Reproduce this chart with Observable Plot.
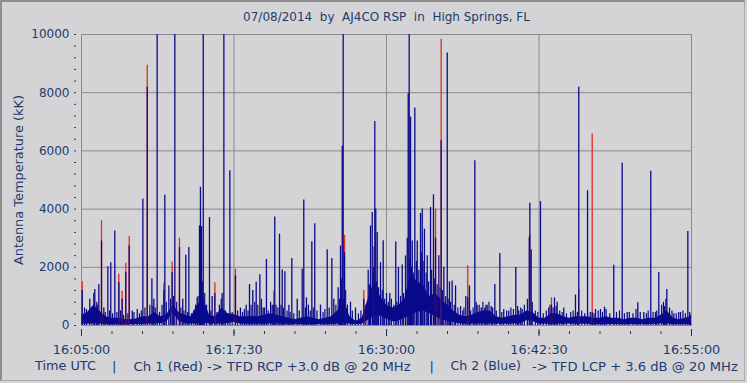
<!DOCTYPE html>
<html><head><meta charset="utf-8">
<script src="https://cdn.jsdelivr.net/npm/d3@7"></script>
<script src="https://cdn.jsdelivr.net/npm/@observablehq/plot@0.6"></script>
<style>
html,body{margin:0;padding:0;background:#d4d4d6;}
#wrap{position:relative;width:747px;height:383px;overflow:hidden;background:#d4d4d6;font-family:"DejaVu Sans",sans-serif;color:#1d3a6e;}
.t{position:absolute;white-space:pre;line-height:1;}
#frame{position:absolute;left:0;top:0;width:745px;height:381px;border-top:2px solid #8e8e8e;border-left:2px solid #8e8e8e;border-right:1px solid #ababab;border-bottom:1px solid #ababab;box-sizing:border-box;}
#chart{position:absolute;left:0;top:0;}
</style></head><body>
<div id="wrap">
<div id="frame"></div>
<div id="chart"></div>
<div class="t fit" data-w="287" data-cx="386.5" data-top="11" style="font-size:12px;">07/08/2014  by  AJ4CO RSP  in  High Springs, FL</div>
<div class="t fit rot" data-w="170" style="left:19px;top:180px;font-size:12.7px;transform:translate(-50%,-50%) rotate(-90deg);">Antenna Temperature (kK)</div>
<div class="t fit" data-w="61" data-left="35" style="top:360px;font-size:13px;">Time UTC</div>
<div class="t" style="left:112px;top:360px;font-size:13px;">|</div>
<div class="t fit" data-w="277.5" data-left="133.5" style="top:360px;font-size:13px;">Ch 1 (Red) -&gt; TFD RCP +3.0 dB @ 20 MHz</div>
<div class="t" style="left:429.5px;top:360px;font-size:13px;">|</div>
<div class="t fit" data-w="70.5" data-left="450.5" style="top:360px;font-size:13px;">Ch 2 (Blue)</div>
<div class="t fit" data-w="206" data-left="532" style="top:360px;font-size:13px;">-&gt; TFD LCP + 3.6 dB @ 20 MHz</div>
</div>
<script>
// ---- data (minutes after 16:05:00 UTC, antenna temperature in kK) ----
const xTickLabels = ["16:05:00","16:17:30","16:30:00","16:42:30","16:55:00"];
const xTickMinutes = [0, 12.5, 25, 37.5, 50];
const xMinorMinutes = [0,2.5,5,7.5,10,12.5,15,17.5,20,22.5,25,27.5,30,32.5,35,37.5,40,42.5,45,47.5,50];
const yTicks = [0,2000,4000,6000,8000,10000];
const yMinorTicks = [0,400,800,1200,1600,2000,2400,2800,3200,3600,4000,4400,4800,5200,5600,6000,6400,6800,7200,7600,8000,8400,8800,9200,9600,10000];

// spikes: time, Ch 2 (blue) peak, Ch 1 (red) peak where it shows above blue
const spikeMin = [0.06,0.41,0.68,1.01,1.09,1.42,1.64,1.83,2.16,2.40,2.73,3.06,3.33,3.63,3.91,4.16,4.57,5.03,5.39,5.77,5.93,6.20,6.75,6.83,7.16,7.43,7.65,8.03,8.30,8.55,8.80,9.48,9.67,9.75,9.84,9.98,10.49,10.71,10.93,11.53,11.67,12.16,12.62,13.03,13.50,13.77,14.04,14.32,14.62,14.89,15.16,15.63,15.76,15.84,16.23,16.45,16.67,17.00,17.24,17.68,18.09,18.22,18.44,18.88,19.12,19.59,20.14,20.52,20.68,21.04,21.23,21.37,21.45,21.56,22.05,22.46,23.14,23.50,23.69,23.83,23.96,24.04,24.12,24.24,24.51,24.73,25.00,25.27,25.76,25.98,26.29,26.56,26.70,26.78,26.86,26.97,27.11,27.32,27.52,27.79,27.93,28.11,28.34,28.61,28.85,29.02,29.29,29.48,29.70,29.98,30.16,30.38,30.66,31.07,31.50,31.66,31.80,32.24,32.43,32.76,33.06,33.25,33.58,33.88,34.29,34.61,35.02,35.60,35.84,36.12,36.70,36.75,36.86,37.62,38.30,38.52,38.77,38.99,39.53,40.49,40.76,41.48,41.86,42.13,42.54,42.87,43.63,44.32,44.73,45.60,46.09,46.66,47.05,47.32,47.79,47.98,48.55,49.10,49.70,49.92];
const spikeBlue = [1200,550,900,1100,1240,1410,2900,600,2020,2160,3250,1470,900,1820,2730,500,550,4340,8190,1610,900,10000,1200,4480,1360,1820,10000,2680,900,2410,2680,950,3420,4750,3400,10000,3710,1000,1100,1100,10000,5320,1700,600,700,1410,1200,1490,1740,600,2270,700,700,3730,3140,1910,1850,700,2300,900,1930,4310,950,2880,3500,700,2600,2300,900,1300,2730,6160,10000,2500,800,600,900,1900,3420,3880,2000,7010,4000,3200,2160,2910,1100,1100,2870,2000,2080,2390,3000,7960,10000,7160,2900,7470,2900,3850,4000,3310,2400,4060,4490,3000,2400,6350,2000,9360,1500,1530,1360,650,1000,950,1360,5660,700,600,600,700,650,1410,2470,550,500,1990,500,550,3020,4200,2600,4260,600,700,950,800,600,1050,8190,4630,450,550,550,630,2070,5580,450,780,450,5300,450,1820,650,1240,400,450,3230,350];
const spikeRed = [1500,null,null,null,null,null,3600,null,null,null,null,1760,1180,2140,3060,null,null,null,8940,null,null,null,1450,null,null,2180,null,3000,null,null,null,null,null,null,null,null,null,null,1470,null,null,null,1930,null,null,null,null,null,null,null,null,null,1180,null,null,null,null,null,null,null,null,null,null,null,null,null,null,null,null,null,null,null,null,3100,null,null,1200,null,null,null,2700,null,null,null,null,null,null,null,null,null,null,null,null,null,null,null,null,null,null,null,null,null,null,null,null,4000,null,9840,null,null,null,null,null,null,null,2050,null,null,null,null,null,null,null,null,null,null,null,null,null,null,null,3100,null,null,null,950,null,null,null,null,1240,null,6580,null,null,null,null,null,null,null,null,null,null,null,null,null,null,null,null,null,null];

// small noise peaks in the dense band
const noiseMin = [0.25,0.85,1.25,1.3,1.95,2.3,2.55,2.9,3.2,3.45,3.8,4.3,4.75,4.9,5.2,5.6,5.85,6.05,6.4,6.6,6.95,7.3,7.55,7.8,8.15,8.4,8.7,9.0,9.2,9.35,9.55,9.9,10.1,10.25,10.6,11.1,11.3,11.45,11.8,12.0,12.35,12.8,13.2,13.35,13.65,13.9,14.2,14.45,14.75,15.0,15.3,15.5,15.95,16.1,16.35,16.55,16.85,17.1,17.4,17.85,18.35,18.6,18.75,19.0,19.3,19.8,19.95,20.3,20.85,21.15,21.3,21.65,21.8,22.2,22.7,22.9,23.3,23.6,23.9,24.2,24.35,24.65,24.85,25.15,25.4,25.6,25.85,26.15,26.4,26.9,27.05,27.2,27.45,27.65,27.85,28.0,28.25,28.45,28.7,28.95,29.15,29.4,29.6,29.85,30.05,30.25,30.55,30.85,31.25,31.35,31.9,32.1,32.35,32.6,32.9,33.15,33.4,33.7,34.0,34.45,34.85,35.2,35.4,35.75,36.0,36.3,36.55,36.95,37.2,37.4,37.85,38.1,38.4,38.65,38.9,39.2,39.4,39.75,40.1,40.3,40.65,41.0,41.25,41.7,42.0,42.35,42.7,43.0,43.3,43.85,44.1,44.5,44.9,45.2,45.45,45.8,46.3,46.45,46.85,47.15,47.55,47.7,47.9,48.2,48.4,48.75,48.95,49.3,49.5,49.85];
const noiseTop = [600,500,800,700,450,500,400,450,500,350,400,450,400,500,600,700,650,600,450,700,800,900,1000,800,600,500,450,400,500,700,1000,1500,1100,700,500,450,700,900,500,400,450,500,450,550,500,700,800,700,900,600,500,800,700,600,700,600,500,450,400,500,600,700,500,600,500,450,550,600,700,900,1600,1200,700,500,400,500,700,1400,1800,1500,1300,1200,900,800,900,700,800,1000,1100,2300,2000,1800,2200,1900,2500,2200,1800,1500,1900,1600,1400,1300,1200,1000,900,800,700,600,500,600,500,600,800,700,800,700,800,600,500,450,500,600,550,650,600,700,900,800,500,450,400,500,700,600,650,500,450,400,450,500,450,500,400,450,400,500,450,550,400,450,500,400,450,400,550,450,400,500,450,500,700,800,900,600,500,400,450,500,400,450];

// dense band envelope (lower and upper limits of the fast oscillation)
const envMin = [0,0.5,1,1.5,2,2.5,3,3.5,4,4.5,5,5.5,6,6.5,7,7.5,8,8.5,9,9.5,10,10.5,11,11.5,12,12.5,13,13.5,14,14.5,15,15.5,16,16.5,17,17.5,18,18.5,19,19.5,20,20.5,21,21.5,22,22.5,23,23.5,24,24.5,25,25.5,26,26.5,27,27.5,28,28.5,29,29.5,30,30.5,31,31.5,32,32.5,33,33.5,34,34.5,35,35.5,36,36.5,37,37.5,38,38.5,39,39.5,40,40.5,41,41.5,42,42.5,43,43.5,44,44.5,45,45.5,46,46.5,47,47.5,48,48.5,49,49.5,50];
const envHigh = [350,450,700,500,300,250,250,200,200,220,300,300,450,300,380,700,450,350,300,700,900,350,300,600,400,380,300,300,320,300,350,400,350,300,250,200,250,300,250,200,250,300,500,900,300,150,250,900,1500,1000,700,600,700,900,1800,1500,1400,1000,1100,900,700,500,350,300,350,450,500,500,300,250,300,350,350,500,450,250,250,400,400,300,250,300,300,300,250,250,300,250,250,200,250,250,200,250,250,350,500,250,200,250,300];
const envLow = [40,40,60,40,30,30,30,30,30,30,40,40,60,60,120,450,150,60,40,60,80,50,40,50,60,110,50,40,40,40,40,50,50,40,30,30,30,30,30,30,30,30,50,80,40,20,40,180,300,330,220,130,150,250,350,450,500,420,300,200,150,100,50,40,40,50,50,50,40,40,40,50,60,160,140,40,40,40,40,40,40,40,40,40,30,30,30,30,30,30,30,30,30,30,40,50,50,30,30,30,30];

// ---- build tables ----
const t0 = Date.UTC(2014, 6, 8, 16, 5, 0);
const T = m => new Date(t0 + m * 60000);
const spikes = spikeMin.map((m, i) => ({t: T(m), blue: spikeBlue[i], red: spikeRed[i]}));
const reds = spikes.filter(d => d.red != null);
const noise = noiseMin.map((m, i) => ({t: T(m), v: noiseTop[i]}));
const env = envMin.map((m, i) => ({t: T(m), lo: envLow[i], hi: envHigh[i]}));
const majorT = xTickMinutes.map(T);
const minorT = xMinorMinutes.map(T);
const labelOf = new Map(majorT.map((d, i) => [+d, xTickLabels[i]]));

const NAVY = "#0a0a8c", RED = "#e62a1e", GRID = "#8a8a8a", TXT = "#1d3a6e";

const chart = Plot.plot({
  width: 747, height: 362,
  marginLeft: 81, marginRight: 56, marginTop: 34, marginBottom: 37,
  style: {background: "transparent", fontFamily: "DejaVu Sans, sans-serif", color: TXT},
  x: {type: "utc", domain: [T(0), T(50)]},
  y: {domain: [0, 10000]},
  marks: [
    Plot.gridY([2000, 4000, 6000, 8000], {stroke: GRID, strokeOpacity: 1}),
    Plot.gridX(majorT.slice(1, 4), {stroke: GRID, strokeOpacity: 1}),
    Plot.frame({stroke: GRID}),
    Plot.areaY(env, {x: "t", y1: "lo", y2: "hi", fill: NAVY, curve: "linear"}),
    Plot.ruleX(noise, {x: "t", y1: 0, y2: "v", stroke: NAVY, strokeWidth: 1.2}),
    Plot.ruleX(reds, {x: "t", y1: 0, y2: "red", stroke: RED, strokeWidth: 1.3, clip: true}),
    Plot.ruleX(spikes, {x: "t", y1: 0, y2: "blue", stroke: NAVY, strokeWidth: 1.3, clip: true}),
    Plot.axisY({ticks: yMinorTicks, tickSize: 2, dx: -5, text: null, stroke: "#3a3a3a", label: null}),
    Plot.axisY({ticks: yTicks, tickSize: 0, tickPadding: 12, fontSize: 12, fill: TXT, label: null, tickFormat: d => String(d)}),
    Plot.axisX({ticks: minorT, tickSize: 3, dy: 6, text: null, stroke: "#3a3a3a", label: null}),
    Plot.axisX({ticks: majorT, tickSize: 7, dy: 4, text: null, stroke: "#1a2a60", label: null}),
    Plot.axisX({ticks: majorT, tickSize: 0, tickPadding: 19, fontSize: 12.8, fill: TXT, label: null, tickFormat: d => labelOf.get(+d)})
  ]
});
document.getElementById("chart").appendChild(chart);

// fit text runs to the measured extents of the reference layout
document.querySelectorAll(".fit").forEach(el => {
  const target = +el.dataset.w;
  const fs = parseFloat(getComputedStyle(el).fontSize);
  const w = el.getBoundingClientRect();
  const measured = el.classList.contains("rot") ? w.height : w.width;
  el.style.fontSize = (fs * target / measured) + "px";
  if (el.dataset.left) el.style.left = el.dataset.left + "px";
  if (el.dataset.cx) {
    const w2 = el.getBoundingClientRect().width;
    el.style.left = (+el.dataset.cx - w2 / 2) + "px";
    el.style.top = el.dataset.top + "px";
  }
});
</script>
</body></html>
